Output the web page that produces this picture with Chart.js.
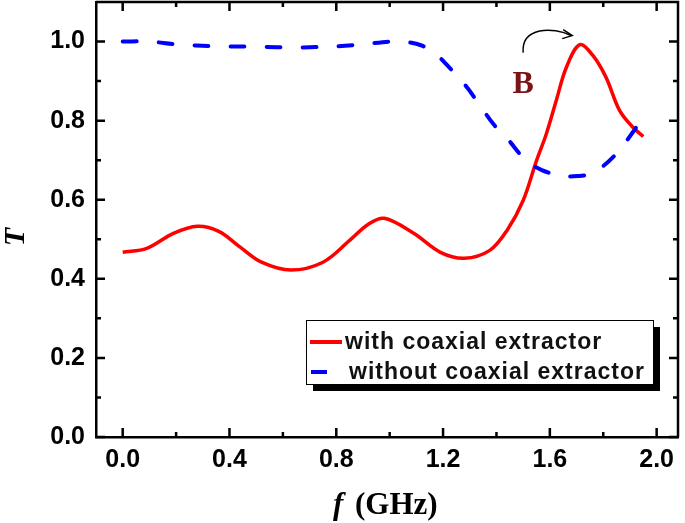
<!DOCTYPE html>
<html>
<head>
<meta charset="utf-8">
<script src="https://cdn.jsdelivr.net/npm/chart.js@4"></script>
<style>
  body { margin: 0; background: #fff; }
  #chart { display: block; }
</style>
</head>
<body>
<canvas id="chart" width="685" height="523"></canvas>
<script>
// frequency (GHz) and transmission
const freqWith = [0.00, 0.09, 0.19, 0.28, 0.36, 0.44, 0.52, 0.63, 0.75, 0.85, 0.92, 0.98, 1.09, 1.19, 1.28, 1.375, 1.44, 1.50, 1.55, 1.587, 1.624, 1.662, 1.712, 1.761, 1.81, 1.861, 1.91, 1.95];
const tWith    = [0.467, 0.477, 0.515, 0.533, 0.52, 0.48, 0.442, 0.422, 0.442, 0.497, 0.538, 0.553, 0.515, 0.467, 0.452, 0.472, 0.523, 0.598, 0.699, 0.767, 0.851, 0.935, 0.992, 0.965, 0.91, 0.826, 0.784, 0.76];

const freqWithout = [0.00, 0.10, 0.20, 0.35, 0.50, 0.65, 0.80, 0.90, 1.00, 1.05, 1.12, 1.17, 1.21, 1.29, 1.33, 1.39, 1.44, 1.51, 1.57, 1.65, 1.71, 1.75, 1.79, 1.85, 1.91, 1.95];
const tWithout    = [1.0, 1.0, 0.993, 0.988, 0.987, 0.985, 0.988, 0.993, 1.0, 1.0, 0.99, 0.97, 0.944, 0.884, 0.846, 0.79, 0.755, 0.70, 0.675, 0.66, 0.66, 0.665, 0.68, 0.717, 0.77, 0.81];

const xTicks = [0.0, 0.4, 0.8, 1.2, 1.6, 2.0];
const yTicks = [0.0, 0.2, 0.4, 0.6, 0.8, 1.0];

const seriesNames = ['with coaxial extractor', 'without coaxial extractor'];

function toPoints(xs, ys) {
    return xs.map((x, i) => ({ x: x, y: ys[i] }));
}

// frame on top/right plus inward tick marks (major + minor) on all four sides
const framePlugin = {
    id: 'frame',
    afterDraw(chart) {
        const ctx = chart.ctx;
        const a = chart.chartArea;
        const xs = chart.scales.x, ys = chart.scales.y;
        ctx.save();
        ctx.strokeStyle = '#000';
        ctx.lineWidth = 2.5;
        ctx.beginPath();
        ctx.moveTo(a.left, a.top);
        ctx.lineTo(a.right, a.top);
        ctx.lineTo(a.right, a.bottom);
        ctx.stroke();

        ctx.beginPath();
        for (let v = 0; v <= 2.001; v += 0.2) {
            const px = xs.getPixelForValue(v);
            const major = xTicks.some(t => Math.abs(t - v) < 1e-6);
            const len = major ? 9 : 5;
            ctx.moveTo(px, a.bottom);
            ctx.lineTo(px, a.bottom - len);
            ctx.moveTo(px, a.top);
            ctx.lineTo(px, a.top + len);
        }
        for (let v = 0; v <= 1.001; v += 0.1) {
            const py = ys.getPixelForValue(v);
            const major = yTicks.some(t => Math.abs(t - v) < 1e-6);
            const len = major ? 9 : 5;
            ctx.moveTo(a.left, py);
            ctx.lineTo(a.left + len, py);
            ctx.moveTo(a.right, py);
            ctx.lineTo(a.right - len, py);
        }
        ctx.stroke();
        ctx.restore();
    }
};

// axis titles, boxed legend with drop shadow, and the "B" note with its arrow
const notesPlugin = {
    id: 'notes',
    afterDraw(chart) {
        const ctx = chart.ctx;
        const xs = chart.scales.x, ys = chart.scales.y;
        const ds = chart.data.datasets;
        ctx.save();

        // x title: italic f + (GHz)
        ctx.fillStyle = '#000';
        ctx.textBaseline = 'alphabetic';
        ctx.textAlign = 'left';
        ctx.font = 'italic bold 31px "Liberation Serif", "Times New Roman", serif';
        ctx.fillText('f', 333, 514);
        ctx.font = 'bold 31px "Liberation Serif", "Times New Roman", serif';
        ctx.fillText('(GHz)', 355, 514);

        // y title
        ctx.save();
        ctx.translate(24, 237);
        ctx.rotate(-Math.PI / 2);
        ctx.textAlign = 'center';
        ctx.font = 'italic bold 30px "Liberation Serif", "Times New Roman", serif';
        ctx.fillText('T', 0, 0);
        ctx.restore();

        // legend
        const bx = 306, by = 320, bw = 347, bh = 64;
        ctx.fillStyle = '#000';
        ctx.fillRect(bx + 7, by + 7, bw, bh);
        ctx.fillStyle = '#fff';
        ctx.fillRect(bx, by, bw, bh);
        ctx.strokeStyle = '#000';
        ctx.lineWidth = 1;
        ctx.strokeRect(bx + 0.5, by + 0.5, bw, bh);

        ctx.lineWidth = 4;
        ctx.strokeStyle = ds[0].borderColor;
        ctx.beginPath();
        ctx.moveTo(310, 342);
        ctx.lineTo(342, 342);
        ctx.stroke();
        ctx.strokeStyle = ds[1].borderColor;
        ctx.beginPath();
        ctx.moveTo(311, 372);
        ctx.lineTo(327, 372);
        ctx.stroke();

        ctx.fillStyle = '#111';
        ctx.font = 'bold 23px "Liberation Sans", Arial, sans-serif';
        ctx.letterSpacing = '1px';
        ctx.textBaseline = 'middle';
        ctx.textAlign = 'left';
        ctx.fillText(seriesNames[0], 345, 343);
        ctx.fillText(seriesNames[1], 349, 373);
        ctx.letterSpacing = '0px';

        // "B" label
        ctx.fillStyle = '#7a1416';
        ctx.font = 'bold 32px "Liberation Serif", "Times New Roman", serif';
        ctx.textAlign = 'center';
        ctx.textBaseline = 'alphabetic';
        ctx.fillText('B', xs.getPixelForValue(1.5), ys.getPixelForValue(0.87));

        // curved arrow
        const x0 = xs.getPixelForValue(1.5), y0 = ys.getPixelForValue(0.972);
        const x1 = xs.getPixelForValue(1.68), y1 = ys.getPixelForValue(1.015);
        ctx.strokeStyle = '#000';
        ctx.lineWidth = 1.5;
        ctx.beginPath();
        ctx.moveTo(x0, y0);
        ctx.bezierCurveTo(x0 - 2, y0 - 26, x0 + 30, y0 - 26, x1, y1);
        ctx.stroke();
        ctx.beginPath();
        ctx.moveTo(x1 - 8, y1 - 6);
        ctx.lineTo(x1 + 1, y1);
        ctx.lineTo(x1 - 9, y1 + 3);
        ctx.stroke();
        ctx.restore();
    }
};

const tickFont = { family: '"Liberation Sans", Arial, sans-serif', size: 25, weight: 'bold' };

const ctx = document.getElementById('chart').getContext('2d');
new Chart(ctx, {
    type: 'line',
    data: {
        datasets: [{
            label: seriesNames[0],
            data: toPoints(freqWith, tWith),
            borderColor: '#ff0000',
            borderWidth: 3.5,
            pointRadius: 0,
            tension: 0.35,
            order: 1
        }, {
            label: seriesNames[1],
            data: toPoints(freqWithout, tWithout),
            borderColor: '#0000ff',
            borderWidth: 4,
            borderDash: [14, 22],
            borderCapStyle: 'round',
            pointRadius: 0,
            tension: 0.35,
            order: 0
        }]
    },
    options: {
        responsive: false,
        animation: false,
        devicePixelRatio: 1,
        layout: { padding: { left: 0, right: 7, top: 2, bottom: 0 } },
        plugins: {
            legend: { display: false },
            tooltip: { enabled: false }
        },
        scales: {
            x: {
                type: 'linear',
                min: -0.1,
                max: 2.08,
                afterBuildTicks: s => { s.ticks = xTicks.map(v => ({ value: v })); },
                afterFit: s => { s.height = 86; s.paddingLeft = 0; s.paddingRight = 0; },
                grid: { display: false, drawTicks: false },
                border: { display: true, color: '#000', width: 2.5 },
                ticks: {
                    color: '#000',
                    padding: 8,
                    maxRotation: 0,
                    font: tickFont,
                    callback: v => v.toFixed(1)
                }
            },
            y: {
                type: 'linear',
                min: 0,
                max: 1.1,
                afterBuildTicks: s => { s.ticks = yTicks.map(v => ({ value: v })); },
                afterFit: s => { s.width = 96; s.paddingTop = 0; s.paddingBottom = 0; },
                grid: { display: false, drawTicks: false },
                border: { display: true, color: '#000', width: 2.5 },
                ticks: {
                    color: '#000',
                    padding: 11,
                    font: tickFont,
                    callback: v => v.toFixed(1)
                }
            }
        }
    },
    plugins: [framePlugin, notesPlugin]
});
</script>
</body>
</html>
